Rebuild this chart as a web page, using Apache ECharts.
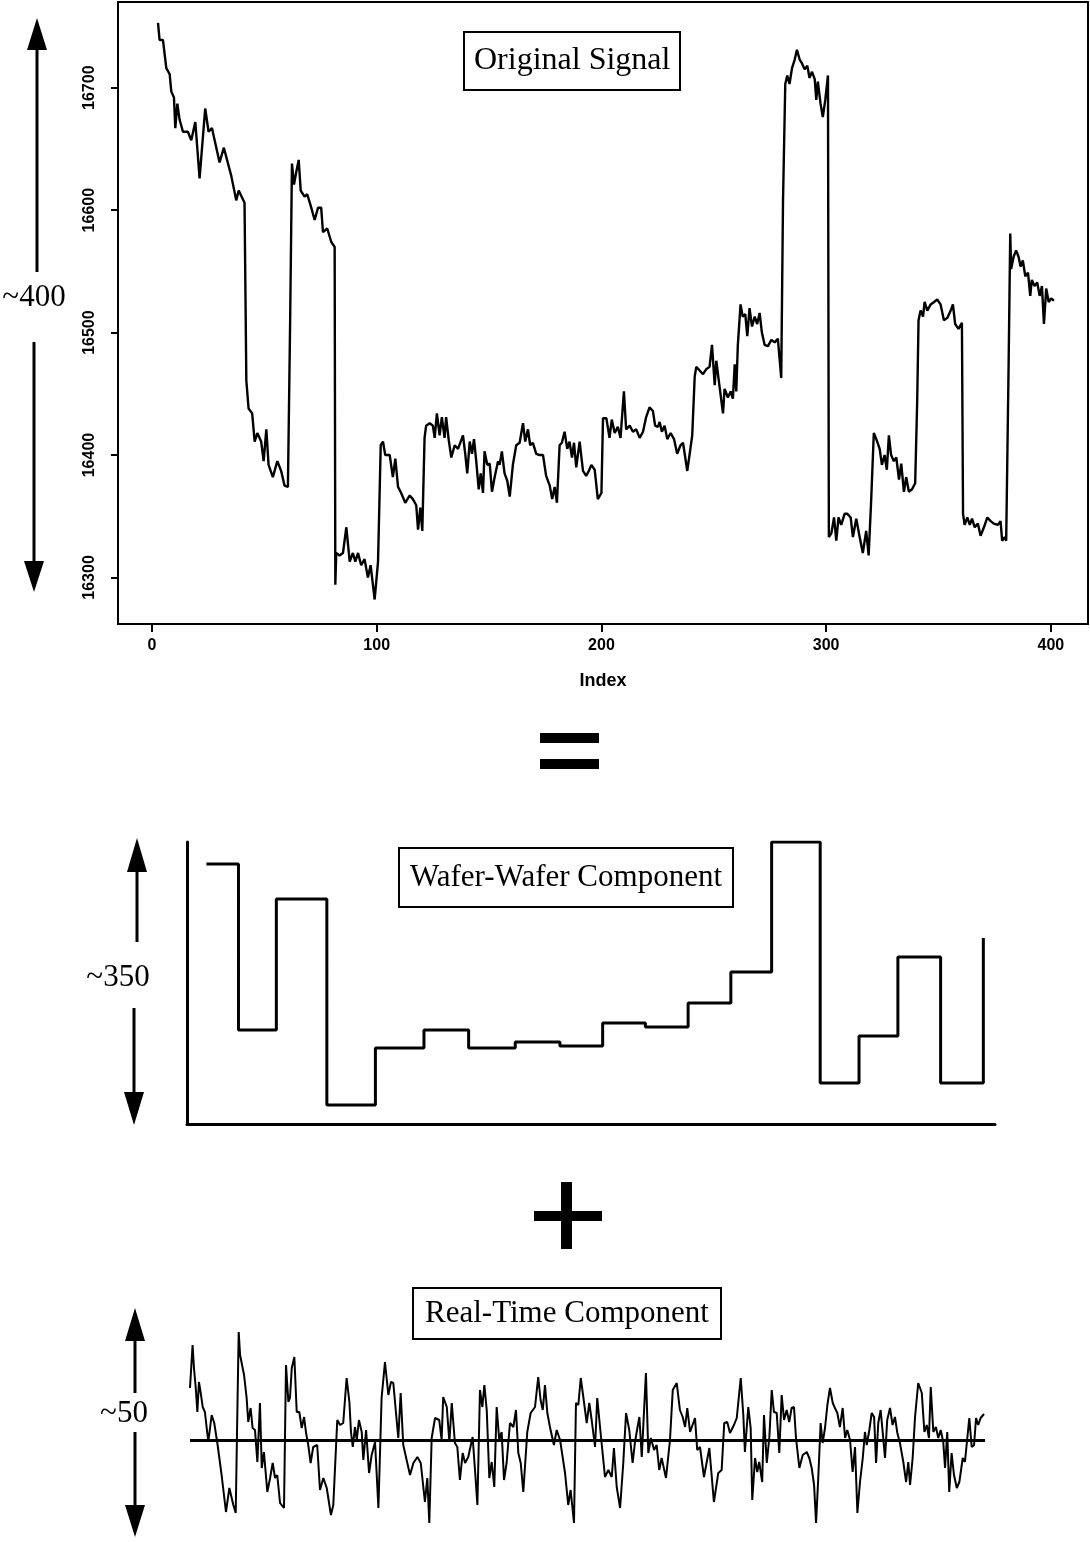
<!DOCTYPE html>
<html>
<head>
<meta charset="utf-8">
<script src="https://cdn.jsdelivr.net/npm/echarts@6/dist/echarts.min.js"></script>
<style>
  html, body { margin: 0; padding: 0; background: #fff; }
  #chart { width: 1090px; height: 1542px; }
</style>
</head>
<body>
<div id="chart"></div>
<script>
// original signal, [index, value]
const originalSignal = [
  [2.7,16753],[3.4,16739],[4.9,16739],[6.4,16716],[7.9,16711],[8.6,16697],[9.8,16692],[10.4,16667],[11.3,16687],[12.3,16674],
  [13.8,16664],[16.0,16664],[17.5,16657],[19.3,16672],[21.2,16626],[23.7,16683],[25.2,16664],[26.7,16667],[27.9,16657],[30.1,16639],
  [32.0,16651],[35.3,16628],[37.5,16608],[38.6,16616],[41.2,16606],
  [42.0,16461],[43.0,16438],[44.6,16434],[45.7,16411],[46.9,16418],[48.6,16411],[49.7,16395],[50.9,16421],[51.9,16392],[53.8,16382],
  [55.8,16395],[57.5,16387],[59.0,16375],[60.5,16374],
  [61.5,16510],[62.3,16638],[63.2,16621],[64.2,16631],[65.3,16641],[66.2,16616],[67.9,16611],[69.1,16613],[70.9,16602],[72.4,16592],
  [73.9,16602],[75.3,16602],[76.1,16582],[78.0,16585],[79.8,16574],[81.3,16570],
  [81.6,16294],[82.0,16320],[83.5,16318],[85.0,16320],[86.5,16341],[88.0,16313],[89.4,16320],[90.5,16313],[91.7,16320],[93.1,16310],
  [94.6,16315],[96.1,16300],[97.3,16310],[99.1,16282],[100.6,16313],
  [101.8,16408],[102.8,16411],[103.8,16400],[105.8,16400],[107.2,16382],[108.3,16397],[109.5,16374],[110.9,16369],[112.7,16361],[114.7,16367],
  [116.1,16364],[117.6,16359],[118.4,16339],[119.4,16357],[120.3,16338],
  [121.3,16414],[122.0,16424],[123.6,16426],[125.0,16424],[125.8,16414],[126.8,16434],[128.0,16416],[129.0,16431],[130.2,16414],[130.9,16431],
  [132.0,16413],[133.2,16398],[134.7,16408],[136.2,16405],[138.4,16416],[139.4,16401],[140.3,16385],[141.4,16411],[142.4,16401],[143.3,16413],
  [144.3,16395],[145.4,16372],[146.3,16385],[147.3,16369],[148.0,16403],[149.2,16392],[150.3,16393],[151.3,16370],[152.5,16382],[154.0,16395],
  [154.7,16392],[155.7,16403],[156.9,16385],[158.1,16379],[159.2,16366],[160.6,16392],[162.1,16408],[163.6,16410],[165.1,16426],[166.1,16411],
  [167.3,16421],[168.3,16408],[169.5,16410],[171.0,16401],[172.5,16400],[174.0,16400],[175.4,16383],[177.0,16375],[178.1,16364],[179.2,16374],
  [180.2,16361],[181.4,16408],[182.4,16410],[183.6,16419],[184.8,16405],[185.8,16411],[186.9,16398],[187.8,16410],[188.8,16390],[190.3,16411],
  [191.8,16387],[193.2,16383],[194.4,16387],[195.5,16392],[197.0,16388],[198.4,16364],[200.0,16369],
  [200.7,16430],[202.2,16430],[203.6,16414],[204.6,16429],[205.9,16418],[207.3,16423],[208.5,16414],[210.0,16452],[211.0,16421],[212.6,16424],
  [214.0,16419],[215.5,16421],[217.0,16414],[218.5,16419],[219.9,16431],[221.4,16439],[222.9,16436],[223.9,16424],[225.1,16423],[225.9,16427],
  [226.9,16419],[228.1,16424],[229.3,16413],[230.8,16418],[232.3,16413],[233.7,16401],[235.2,16408],[236.3,16410],[237.3,16398],[238.2,16387],
  [239.2,16400],[240.4,16416],
  [241.5,16464],[242.2,16472],[243.7,16469],[245.2,16466],[246.6,16470],[248.1,16472],[249.2,16490],[250.4,16457],[251.1,16477],[252.2,16461],
  [253.0,16462],[254.1,16434],[254.8,16454],[256.3,16447],[257.5,16452],[258.5,16446],[259.3,16474],[260.0,16452],
  [260.7,16490],[261.9,16523],[262.9,16513],[264.0,16515],[264.9,16497],[265.9,16520],[267.0,16505],[268.2,16513],[269.3,16507],[270.4,16516],
  [271.4,16500],[272.6,16490],[274.1,16489],[275.6,16494],[277.1,16492],[278.5,16495],[280.0,16463],
  [280.8,16608],[281.8,16703],[282.7,16710],[283.7,16703],[284.8,16716],[286.0,16723],[287.0,16731],[288.2,16723],[289.2,16720],[290.4,16715],
  [291.6,16718],[292.6,16708],[293.7,16713],[294.9,16707],[295.6,16690],[296.3,16705],[297.5,16687],[298.5,16676],[299.6,16690],[300.8,16710],
  [301.2,16333],[302.3,16336],[303.5,16349],[304.5,16330],[305.5,16349],[306.7,16343],[308.2,16352],[309.4,16352],[310.9,16349],[311.9,16333],
  [313.4,16348],[314.9,16333],[316.3,16320],[317.8,16338],[318.9,16318],
  [320.0,16362],[321.2,16418],[322.7,16411],[323.8,16405],[324.8,16392],[326.0,16400],[327.0,16388],[327.9,16416],[328.9,16400],[330.1,16395],
  [331.2,16398],[332.4,16380],[333.4,16393],[334.6,16370],[335.6,16382],[336.8,16370],[338.2,16372],[339.6,16377],
  [340.5,16444],[341.1,16510],[342.0,16518],[343.1,16513],[343.8,16525],[345.0,16518],[346.5,16523],[348.0,16525],[349.4,16527],[350.9,16523],
  [352.4,16510],[353.9,16512],[355.4,16518],[356.4,16523],[357.4,16507],[358.9,16503],[360.4,16508],
  [360.9,16352],[361.6,16343],[362.8,16349],[363.9,16343],[364.9,16348],[366.1,16341],[367.5,16344],[368.7,16334],[370.2,16341],[371.7,16349],
  [373.2,16346],[374.6,16344],[376.4,16343],[377.6,16346],[378.3,16330],[379.4,16333],[380.1,16330],
  [381.2,16477],[381.9,16581],[382.3,16552],[383.4,16562],[384.5,16567],[385.6,16562],[386.5,16554],[387.5,16559],[388.6,16546],[389.8,16549],
  [390.8,16530],[391.5,16543],[392.7,16538],[393.9,16541],[395.0,16530],[396.0,16538],[396.9,16507],[397.9,16536],[399.0,16525],[400.1,16528],
  [401.3,16526]
];
const indexTicks = [0, 100, 200, 300, 400];
const signalTicks = [16300, 16400, 16500, 16600, 16700];

// wafer-to-wafer component: step edges (index) and levels (relative units)
const waferEdges = [0, 16.5, 36, 62, 87, 112, 135, 159, 182, 204, 226, 248, 270, 291, 316, 336, 356, 378, 400];
const waferLevels = [260, 94, 225, 19, 76, 94, 76, 82, 78, 101, 97, 121, 152, 282, 41, 88, 167, 41, 186];

// real-time component, [index, deviation]
const realTime = [
  [0,52],[1.3,95],[2.0,72],[2.9,52],[3.7,28],[4.5,58],[5.4,47],[6.4,33],[7.5,28],[9.2,-2],
  [10.9,25],[12.2,17],[13.9,-5],[15.9,-35],[18.1,-72],[19.8,-48],[21.8,-65],[23.0,-73],[23.8,25],[24.5,108],
  [25.2,85],[27.2,65],[28.5,42],[29.3,18],[30.5,32],[31.5,12],[32.7,10],[33.9,-22],[35.2,37],[36.1,-28],
  [37.2,-12],[38.9,-52],[40.3,-38],[41.6,-23],[42.8,-38],[43.9,-35],[45.3,-63],[47.3,-68],[48.3,75],[49.5,38],
  [50.3,42],[51.2,72],[52.5,83],[53.7,28],[55.0,28],[56.2,12],[57.4,23],[58.4,7],[59.5,-5],[60.7,-23],
  [62.0,-7],[64.0,-5],[65.4,-50],[67.1,-38],[68.8,-48],[70.9,-75],[72.1,-65],[74.1,20],[75.5,15],[77.1,17],
  [78.8,62],[80.2,38],[81.0,8],[81.9,-7],[83.0,13],[83.9,0],[85.0,20],[86.4,8],[87.2,-20],[88.6,10],
  [90.1,-33],[91.4,-15],[93.1,-2],[94.8,-68],[96.4,42],[98.1,78],[99.8,45],[101.1,58],[102.3,57],[103.6,28],
  [104.8,2],[106.0,47],[107.3,-5],[110.7,-35],[112.4,-23],[114.4,-17],[116.1,-23],[118.2,-62],[119.4,-38],[120.4,-83],
  [121.6,2],[123.3,22],[125.4,20],[126.6,0],[127.4,43],[129.2,33],[130.5,-2],[131.7,37],[133.3,-3],[134.5,-7],
  [135.8,-40],[137.2,-13],[138.4,-23],[140.0,-17],[142.2,3],[143.4,-30],[144.6,-65],[145.9,50],[147.1,33],[148.1,55],
  [149.3,30],[150.6,-38],[151.8,-22],[153.1,-47],[154.3,33],[155.6,0],[156.8,8],[158.0,-40],[159.3,-23],[161.0,17],
  [162.7,13],[164.0,30],[165.2,-13],[166.4,-23],[167.7,-52],[169.7,8],[171.4,27],[173.6,33],[175.2,63],[176.4,40],
  [177.5,30],[178.6,55],[179.8,27],[181.1,13],[183.1,-5],[184.5,10],[186.2,0],[188.7,-33],[190.3,-65],[191.5,-50],
  [193.2,-83],[194.2,37],[195.4,35],[196.6,62],[197.9,43],[199.6,17],[200.9,37],[202.1,20],[203.8,-7],[204.9,42],
  [206.3,13],[208.8,-37],[210.5,-30],[212.2,-37],[213.3,-8],[214.7,-47],[216.4,-68],[218.0,-23],[219.4,27],[221.0,10],
  [222.7,-23],[223.9,-2],[225.1,12],[226.1,23],[227.3,-17],[228.4,27],[229.4,67],[230.6,-13],[231.9,2],[233.5,-10],
  [234.8,-5],[236.1,-30],[237.3,-18],[239.5,-38],[241.5,0],[242.9,50],[244.9,57],[246.5,30],[247.9,23],[249.1,13],
  [250.2,32],[251.6,8],[254.1,22],[255.2,-10],[256.6,-7],[258.6,-37],[261.3,-8],[263.6,-62],[265.8,-33],[267.5,-30],
  [268.8,17],[270.3,18],[271.7,7],[273.7,15],[275.1,22],[277.1,62],[278.4,25],[279.2,-12],[280.9,33],[282.1,12],
  [282.9,-60],[284.3,-18],[285.4,-32],[286.4,-22],[287.9,-42],[288.8,25],[290.2,-23],[291.5,3],[292.7,50],[293.8,28],
  [295.2,27],[296.5,-13],[297.7,45],[298.9,20],[300.2,30],[301.5,18],[302.7,32],[303.9,33],[304.9,2],[306.6,-28],
  [308.3,-15],[310.3,-12],[311.6,-18],[312.8,-28],[314.0,-45],[315.0,-83],[316.1,-38],[317.3,17],[318.3,-3],[319.5,12],
  [320.7,35],[322.0,52],[323.4,37],[324.5,32],[325.7,27],[327.0,13],[328.4,32],[329.6,2],[330.7,10],[332.1,0],
  [333.4,-32],[334.6,-7],[335.8,-73],[337.1,-42],[338.5,-18],[339.6,8],[340.5,-5],[341.8,10],[343.0,27],[344.2,23],
  [345.2,-23],[346.3,17],[347.5,30],[348.5,32],[349.7,-18],[350.8,20],[352.2,32],[353.5,15],[354.7,23],[355.9,7],
  [357.2,-3],[358.9,-22],[360.3,-42],[361.4,-22],[362.3,-45],[363.6,-18],[364.8,23],[366.4,57],[368.2,47],[369.5,8],
  [370.7,15],[371.8,2],[372.7,53],[374.0,8],[375.3,13],[376.5,2],[377.7,10],[379.0,-2],[379.9,-28],[381.0,8],
  [382.0,-52],[383.2,-13],[384.4,-35],[385.8,-48],[387.1,-42],[388.8,-18],[389.9,-22],[391.1,2],[392.1,22],[393.3,-7],
  [394.5,-5],[395.5,22],[396.6,15],[397.8,22],[399.5,26]
];

const serif = '"Liberation Serif", "Times New Roman", serif';
const sans = '"Liberation Sans", Arial, sans-serif';

// step points for the wafer component
const waferData = waferEdges.map((x, i) => [x, waferLevels[i]]);

// annotation arrows at the left of each panel
const arrowSpecs = [
  { x: 37, tip: 18, base: 50, end: 272 },
  { x: 34, tip: 592, base: 561, end: 342 },
  { x: 137, tip: 838, base: 872, end: 942 },
  { x: 134, tip: 1125, base: 1092, end: 1008 },
  { x: 135, tip: 1308, base: 1341, end: 1393 },
  { x: 135, tip: 1537, base: 1505, end: 1432 }
];
const arrowLabels = [
  { text: '~400', x: 34, y: 298 },
  { text: '~350', x: 118, y: 978 },
  { text: '~50', x: 124, y: 1414 }
];

const graphics = [];
arrowSpecs.forEach((a) => {
  graphics.push({
    type: 'line',
    shape: { x1: a.x, y1: a.base, x2: a.x, y2: a.end },
    style: { stroke: '#000', lineWidth: 3 }
  });
  graphics.push({
    type: 'polygon',
    shape: { points: [[a.x - 10, a.base], [a.x + 10, a.base], [a.x, a.tip]] },
    style: { fill: '#000' }
  });
});
arrowLabels.forEach((l) => {
  graphics.push({
    type: 'text',
    x: l.x,
    y: l.y,
    style: {
      text: l.text,
      fontFamily: serif,
      fontSize: 31,
      fill: '#000',
      align: 'center',
      verticalAlign: 'middle'
    }
  });
});
// "=" and "+" between panels
graphics.push(
  { type: 'rect', shape: { x: 540, y: 733, width: 59, height: 10 }, style: { fill: '#000' } },
  { type: 'rect', shape: { x: 540, y: 759, width: 59, height: 10 }, style: { fill: '#000' } },
  { type: 'rect', shape: { x: 534, y: 1211, width: 68, height: 10 }, style: { fill: '#000' } },
  { type: 'rect', shape: { x: 561, y: 1182, width: 11, height: 67 }, style: { fill: '#000' } }
);

const boxTitle = (text, left, top, size, pad) => ({
  text: text,
  left: left,
  top: top,
  padding: pad,
  borderColor: '#000',
  borderWidth: 2,
  backgroundColor: '#fff',
  textStyle: { fontFamily: serif, fontSize: size, fontWeight: 'normal', color: '#000' }
});

const chart = echarts.init(document.getElementById('chart'), null, { renderer: 'canvas' });

const option = {
  animation: false,
  backgroundColor: '#fff',
  title: [
    boxTitle('Original Signal', 464, 32, 32, [13, 10, 13, 10]),
    boxTitle('Wafer-Wafer Component', 399, 848, 31, [14, 11, 14, 11]),
    boxTitle('Real-Time Component', 413, 1288, 31, [10, 12, 10, 12])
  ],
  grid: [
    { left: 118, top: 2, width: 970, height: 622, show: true, borderColor: '#000', borderWidth: 2, backgroundColor: 'transparent' },
    { left: 187, top: 842, width: 808, height: 282 },
    { left: 190, top: 1330, width: 795, height: 210 }
  ],
  xAxis: [
    {
      gridIndex: 0,
      type: 'value',
      min: -15.1,
      max: 416.5,
      axisLine: { show: false, onZero: false },
      axisTick: {
        show: true,
        customValues: indexTicks,
        length: 8,
        lineStyle: { color: '#000', width: 2 }
      },
      axisLabel: {
        customValues: indexTicks,
        margin: 14,
        fontFamily: sans,
        fontWeight: 'bold',
        fontSize: 16,
        color: '#000'
      },
      splitLine: { show: false },
      name: 'Index',
      nameLocation: 'middle',
      nameGap: 48,
      nameTextStyle: { fontFamily: sans, fontWeight: 'bold', fontSize: 18, color: '#000' }
    },
    {
      gridIndex: 1,
      type: 'value',
      min: -10,
      max: 406,
      axisLine: { show: true, onZero: false, lineStyle: { color: '#000', width: 3 } },
      axisTick: { show: false },
      axisLabel: { show: false },
      splitLine: { show: false }
    },
    {
      gridIndex: 2,
      type: 'value',
      min: 0,
      max: 400,
      show: false
    }
  ],
  yAxis: [
    {
      gridIndex: 0,
      type: 'value',
      min: 16262,
      max: 16770,
      axisLine: { show: false, onZero: false },
      axisTick: {
        show: true,
        customValues: signalTicks,
        length: 7,
        lineStyle: { color: '#000', width: 2 }
      },
      axisLabel: {
        customValues: signalTicks,
        formatter: (v) => String(v),
        rotate: 90,
        margin: 20,
        fontFamily: sans,
        fontWeight: 'bold',
        fontSize: 16,
        color: '#000'
      },
      splitLine: { show: false }
    },
    {
      gridIndex: 1,
      type: 'value',
      min: 0,
      max: 282,
      axisLine: { show: true, onZero: false, lineStyle: { color: '#000', width: 3 } },
      axisTick: { show: false },
      axisLabel: { show: false },
      splitLine: { show: false }
    },
    {
      gridIndex: 2,
      type: 'value',
      min: -100,
      max: 110,
      show: false
    }
  ],
  graphic: graphics,
  series: [
    {
      type: 'line',
      xAxisIndex: 0,
      yAxisIndex: 0,
      data: originalSignal,
      showSymbol: false,
      lineStyle: { color: '#000', width: 2.4 },
      z: 3
    },
    {
      type: 'line',
      xAxisIndex: 1,
      yAxisIndex: 1,
      data: waferData,
      step: 'end',
      showSymbol: false,
      lineStyle: { color: '#000', width: 3 }
    },
    {
      type: 'line',
      xAxisIndex: 2,
      yAxisIndex: 2,
      data: realTime,
      showSymbol: false,
      lineStyle: { color: '#000', width: 2 },
      markLine: {
        silent: true,
        symbol: 'none',
        label: { show: false },
        lineStyle: { color: '#000', width: 3, type: 'solid' },
        data: [{ yAxis: 0 }]
      }
    }
  ]
};

chart.setOption(option);
</script>
</body>
</html>
